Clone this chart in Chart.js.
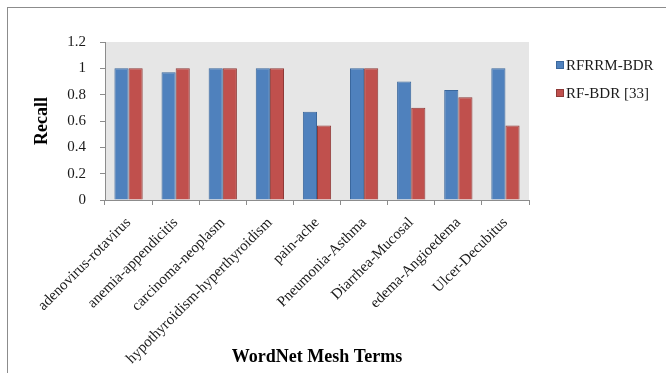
<!DOCTYPE html>
<html>
<head>
<meta charset="utf-8">
<script src="https://cdn.jsdelivr.net/npm/chart.js@4.4.1/dist/chart.umd.min.js"></script>
<style>
  html, body { margin: 0; padding: 0; background: #fff; }
  #wrap { position: relative; width: 666px; height: 373px; overflow: hidden; }
  #frame { position: absolute; left: 7px; top: 7px; width: 700px; height: 400px;
           border-top: 1px solid #8c8c8c; border-left: 1px solid #8c8c8c; }
  #myChart { position: absolute; left: 0; top: 0; }
  .legend { position: absolute; left: 556px; font: 15px "Liberation Serif", serif; color: #1a1a1a; }
  .legend span { display: inline-block; width: 6px; height: 6px; margin-right: 2px; vertical-align: 1px; }
</style>
</head>
<body>
<div id="wrap">
  <div id="frame"></div>
  <canvas id="myChart" width="666" height="373"></canvas>
  <div class="legend" style="top:57px"><span style="background:#4f81bd;border:1px solid #3a679c"></span>RFRRM-BDR</div>
  <div class="legend" style="top:85px"><span style="background:#c0504d;border:1px solid #8e3a38"></span>RF-BDR [33]</div>
</div>
<script>
const terms = [
  "adenovirus-rotavirus", "anemia-appendicitis", "carcinoma-neoplasm",
  "hypothyroidism-hyperthyroidism", "pain-ache", "Pneumonia-Asthma",
  "Diarrhea-Mucosal", "edema-Angioedema", "Ulcer-Decubitus"
];
const rfrrm = [1, 0.97, 1, 1, 0.67, 1, 0.9, 0.835, 1];
const rfbdr = [1, 1, 1, 1, 0.565, 1, 0.7, 0.78, 0.565];
const recallTicks = [0, 0.2, 0.4, 0.6, 0.8, 1, 1.2];

// grey plot area behind the bars
const plotBg = {
  id: "plotBg",
  beforeDraw(chart) {
    const { ctx, chartArea: a } = chart;
    ctx.save();
    ctx.fillStyle = "#e6e6e6";
    ctx.fillRect(a.left, a.top, a.right - a.left, a.bottom - a.top);
    ctx.restore();
  }
};

document.addEventListener("DOMContentLoaded", () => {
  const ctx = document.getElementById("myChart");
  new Chart(ctx, {
    type: "bar",
    data: {
      labels: terms,
      datasets: [
        {
          label: "RFRRM-BDR",
          data: rfrrm,
          backgroundColor: "#4f81bd",
          borderColor: "#3a679c",
          borderWidth: 1,
        },
        {
          label: "RF-BDR [33]",
          data: rfbdr,
          backgroundColor: "#c0504d",
          borderColor: "#8e3a38",
          borderWidth: 1,
        },
      ],
    },
    options: {
      responsive: false,
      animation: false,
      categoryPercentage: 0.6,
      barPercentage: 1,
      layout: { padding: { top: 42, left: 32, right: 137, bottom: 5 } },
      plugins: { legend: { display: false }, tooltip: { enabled: false } },
      scales: {
        x: {
          grid: { display: true, drawOnChartArea: false, drawTicks: true, tickLength: 5, color: "#8c8c8c" },
          border: { color: "#8c8c8c" },
          ticks: {
            minRotation: 45, maxRotation: 45, autoSkip: false, padding: 9,
            color: "#1a1a1a", font: { family: "Liberation Serif", size: 15 }
          },
          title: {
            display: true, text: "WordNet Mesh Terms", color: "#000",
            padding: 0, font: { family: "Liberation Serif", size: 18, weight: "bold" }
          },
          afterFit(scale) { scale.height = 168; }
        },
        y: {
          min: 0, max: 1.2,
          afterBuildTicks(scale) { scale.ticks = recallTicks.map(v => ({ value: v })); },
          grid: { display: true, drawOnChartArea: false, drawTicks: true, tickLength: 5, color: "#8c8c8c" },
          border: { color: "#8c8c8c" },
          ticks: {
            padding: 14, color: "#1a1a1a", font: { family: "Liberation Serif", size: 15 },
            callback: v => String(Math.round(v * 10) / 10)
          },
          title: {
            display: true, text: "Recall", color: "#000",
            padding: 0, font: { family: "Liberation Serif", size: 18, weight: "bold" }
          },
          afterFit(scale) { scale.width = 73; }
        }
      }
    },
    plugins: [plotBg]
  });
});
</script>
</body>
</html>
